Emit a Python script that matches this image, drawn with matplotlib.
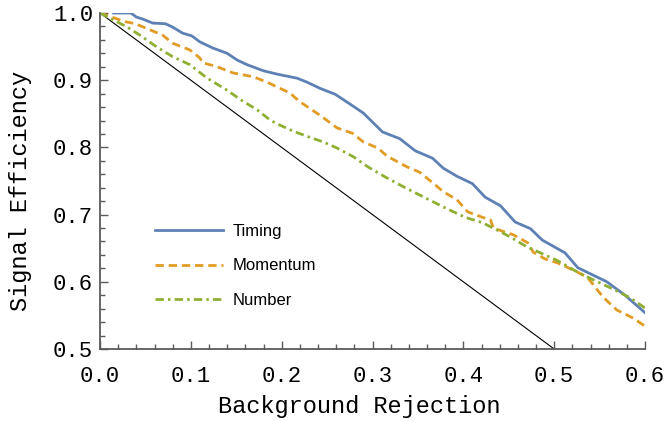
import numpy as np
import matplotlib
matplotlib.use("Agg")
import matplotlib.pyplot as plt
from matplotlib.ticker import MultipleLocator, FormatStrFormatter

# =============================
# DATOS
# =============================

timing_x = [0.015, 0.034, 0.040, 0.047, 0.058, 0.072, 0.080, 0.091, 0.101, 0.110,
            0.124, 0.140, 0.151, 0.162, 0.180, 0.195, 0.206, 0.217, 0.228, 0.242,
            0.259, 0.278, 0.290, 0.311, 0.330, 0.347, 0.366, 0.378, 0.393, 0.410,
            0.424, 0.441, 0.457, 0.474, 0.487, 0.512, 0.526, 0.558, 0.578, 0.600]
timing_y = [1.000, 1.000, 0.994, 0.991, 0.985, 0.984, 0.979, 0.970, 0.966, 0.957,
            0.948, 0.940, 0.930, 0.923, 0.914, 0.909, 0.906, 0.903, 0.897, 0.888,
            0.879, 0.862, 0.851, 0.823, 0.813, 0.795, 0.784, 0.769, 0.757, 0.746,
            0.726, 0.713, 0.689, 0.679, 0.662, 0.643, 0.621, 0.600, 0.580, 0.554]

momentum_x = [0.000, 0.028, 0.039, 0.055, 0.069, 0.080, 0.099, 0.110, 0.113, 0.129,
              0.146, 0.169, 0.184, 0.209, 0.220, 0.242, 0.261, 0.278, 0.290, 0.306,
              0.316, 0.338, 0.352, 0.363, 0.378, 0.393, 0.405, 0.421, 0.430, 0.433,
              0.446, 0.455, 0.471, 0.477, 0.490, 0.504, 0.525, 0.537, 0.554, 0.569,
              0.587, 0.600]
momentum_y = [1.000, 0.987, 0.984, 0.975, 0.967, 0.955, 0.945, 0.933, 0.926, 0.920,
              0.911, 0.905, 0.897, 0.881, 0.868, 0.848, 0.829, 0.821, 0.808, 0.799,
              0.787, 0.771, 0.763, 0.751, 0.734, 0.722, 0.704, 0.696, 0.692, 0.680,
              0.674, 0.670, 0.658, 0.644, 0.634, 0.628, 0.615, 0.606, 0.577, 0.558,
              0.546, 0.534]

number_x = [0.000, 0.030, 0.044, 0.063, 0.080, 0.099, 0.118, 0.140, 0.157, 0.173,
            0.187, 0.195, 0.213, 0.231, 0.246, 0.261, 0.279, 0.295, 0.314, 0.336,
            0.358, 0.380, 0.402, 0.421, 0.443, 0.455, 0.470, 0.485, 0.503, 0.525,
            0.543, 0.562, 0.584, 0.600]
number_y = [1.000, 0.979, 0.967, 0.949, 0.935, 0.923, 0.903, 0.885, 0.869, 0.856,
            0.841, 0.835, 0.824, 0.815, 0.808, 0.799, 0.786, 0.771, 0.756, 0.740,
            0.725, 0.710, 0.696, 0.688, 0.673, 0.664, 0.652, 0.643, 0.632, 0.615,
            0.603, 0.591, 0.576, 0.561]

# linea de referencia
ref_x = [0.0, 0.5]
ref_y = [1.0, 0.5]

# =============================
# ESTILO
# =============================

plt.rcParams["lines.scale_dashes"] = False

BLUE = "#5E81B5"
ORANGE = "#E19C24"
GREEN = "#8FB032"
AXIS_GRAY = "#5a5a5a"
MONO = "Liberation Mono"

fig = plt.figure(figsize=(6.67, 4.21), dpi=100)
ax = fig.add_axes([100/667, 72/421, 545/667, 336/421])

ax.plot(ref_x, ref_y, color="black", lw=0.8)
ax.plot(timing_x, timing_y, color=BLUE, lw=2.0, label="Timing")
ax.plot(momentum_x, momentum_y, color=ORANGE, lw=2.0, dashes=(6, 3.5), label="Momentum")
ax.plot(number_x, number_y, color=GREEN, lw=2.0, dashes=(6, 3, 1.8, 3), label="Number")

ax.set_xlim(0, 0.6)
ax.set_ylim(0.5, 1.0)

for s in ["top", "right"]:
    ax.spines[s].set_visible(False)
for s in ["left", "bottom"]:
    ax.spines[s].set_color(AXIS_GRAY)
    ax.spines[s].set_linewidth(1.3)

ax.xaxis.set_major_locator(MultipleLocator(0.1))
ax.xaxis.set_minor_locator(MultipleLocator(0.02))
ax.yaxis.set_major_locator(MultipleLocator(0.1))
ax.yaxis.set_minor_locator(MultipleLocator(0.02))
ax.xaxis.set_major_formatter(FormatStrFormatter("%.1f"))
ax.yaxis.set_major_formatter(FormatStrFormatter("%.1f"))

ax.tick_params(which="both", direction="in", color=AXIS_GRAY, width=1.0,
               labelsize=16, labelcolor="black")
ax.tick_params(which="major", length=6)
ax.tick_params(which="minor", length=3.5)
ax.tick_params(axis="x", which="major", pad=12)
ax.tick_params(axis="y", which="major", pad=5)
for lab in ax.get_xticklabels() + ax.get_yticklabels():
    lab.set_fontfamily(MONO)

ax.set_xlabel("Background Rejection", fontfamily=MONO, fontsize=17, va="baseline")
ax.set_ylabel("Signal Efficiency", fontfamily=MONO, fontsize=17)
ax.xaxis.set_label_coords(0.476, -0.19)
ax.yaxis.set_label_coords(-0.125, 0.47)

ax.legend(loc="upper left", bbox_to_anchor=(0.085, 0.396), frameon=False,
          prop={"family": "Liberation Sans", "size": 12},
          handlelength=4.1, handletextpad=0.55, labelspacing=1.15, borderpad=0)

fig.savefig("out.png", dpi=100)
